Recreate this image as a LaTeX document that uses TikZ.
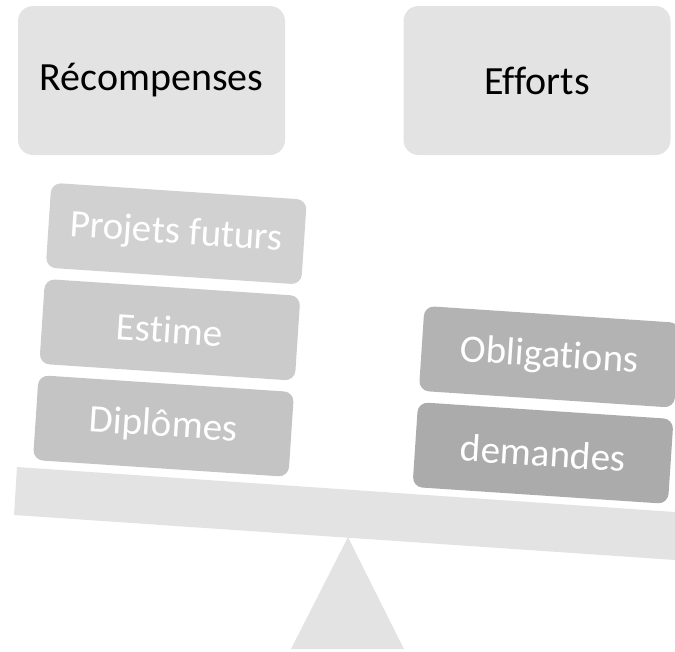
\documentclass[tikz,border=0pt]{standalone}
\usepackage{fontspec}
\setmainfont{Carlito}[Ligatures={NoCommon}]
\usetikzlibrary{positioning}

\definecolor{lightgray}{HTML}{E3E3E3}
\definecolor{projets}{HTML}{D1D1D1}
\definecolor{estime}{HTML}{CBCBCB}
\definecolor{diplomes}{HTML}{C4C4C4}
\definecolor{obligations}{HTML}{B3B3B3}
\definecolor{demandes}{HTML}{ABABAB}

\begin{document}
\begin{tikzpicture}[x=1pt, y=-1pt,
  title/.style={rectangle, rounded corners=15pt, fill=lightgray, minimum width=267pt, minimum height=149pt, font=\fontsize{40}{48}\selectfont},
  weight/.style={rectangle, rounded corners=10pt, minimum width=256pt, minimum height=85pt, inner sep=0pt, text=white, font=\fontsize{39}{46}\selectfont}]
\useasboundingbox (0,0) rectangle (675,651);
\clip (0,0) rectangle (675,651);
% the two headings
\node[title] (rewards) at (151.5,80.5) {Récompenses};
\node[title] (efforts) at (537,80.5) {Efforts};
% beam and pivot
\fill[lightgray] (17,467) -- (690,513) -- (690,561) -- (14,515) -- cycle;
\fill[lightgray] (348,537) -- (404,649) -- (291,649) -- cycle;
% left pan
\begin{scope}[shift={(163.5,426)}, rotate=-3.8, transform shape]
\node[weight, fill=diplomes] (diplomes) at (0,0) {Diplômes};
\node[weight, fill=estime, above=11pt of diplomes] (estime) {Estime};
\node[weight, fill=projets, above=11pt of estime] (projets) {Projets futurs};
\end{scope}
% right pan
\begin{scope}[shift={(543,453)}, rotate=-3.8, transform shape]
\node[weight, fill=demandes] (demandes) at (0,0) {demandes};
\node[weight, fill=obligations, above=11pt of demandes] (obligations) {Obligations};
\end{scope}
\end{tikzpicture}
\end{document}
